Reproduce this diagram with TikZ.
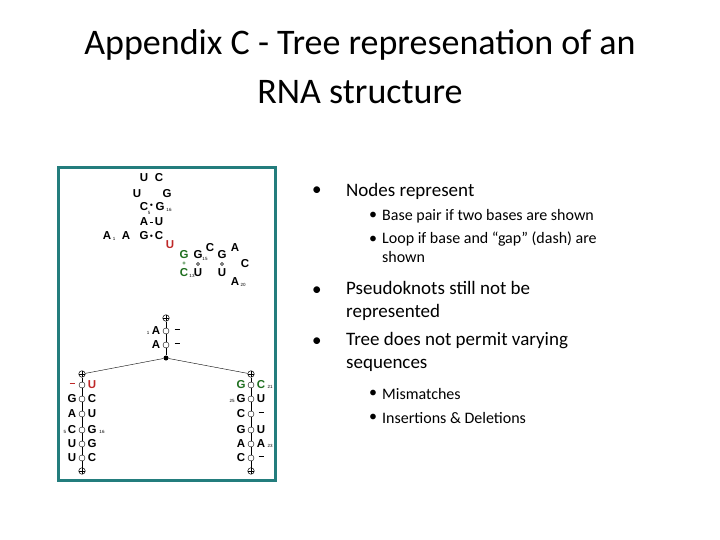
\documentclass[tikz,border=0pt]{standalone}
\usepackage{fontspec}
\setmainfont{Carlito}
\newfontfamily\arialf{Liberation Sans}
\newcommand{\dsh}{\rule[3.5pt]{5pt}{1pt}}
\begin{document}
\begin{tikzpicture}[x=1pt,y=-1pt,
 b/.style={font=\arialf\bfseries\fontsize{11.5}{11.5}\selectfont,inner sep=0pt},
 sub/.style={font=\arialf\fontsize{4.5}{4.5}\selectfont,inner sep=0pt},
 oc/.style={circle,draw,fill=white,inner sep=0pt,minimum size=6pt,line width=0.4pt},
 pc/.style={circle,draw,fill=white,inner sep=0pt,minimum size=6.5pt,line width=0.5pt,path picture={\draw (path picture bounding box.north)--(path picture bounding box.south) (path picture bounding box.west)--(path picture bounding box.east);}},
 l1/.style={font=\fontsize{19}{23}\selectfont,anchor=west,inner sep=0pt,align=left},
 l2/.style={font=\fontsize{16}{19}\selectfont,anchor=west,inner sep=0pt,align=left},
 ttl/.style={font=\fontsize{36}{40}\selectfont,inner sep=0pt}]
\useasboundingbox (0,0) rectangle (720,540);
\definecolor{teal1}{RGB}{35,125,125}
\definecolor{grn}{RGB}{30,110,30}
\definecolor{rd}{RGB}{190,40,40}
\node[ttl] (t1) at (360,45) {Appendix C - Tree represenation of an};
\node[ttl] (t2) at (360,92) {RNA structure};
\draw[teal1,line width=3pt] (58,168) rectangle (275,480);
% top structure
\node[b] (u1) at (144,178) {U}; \node[b] (c1) at (159,178) {C};
\node[b] (u2) at (137,194) {U}; \node[b] (g1) at (167,194) {G};
\node[b] (c5) at (144,207) {C}; \node[sub] at (149,213) {5};\node[b] at (151.5,205){\tiny$\bullet$}; \node[b] (g16) at (160,207) {G}; \node[sub] at (169,210) {16};
\node[b] (a3) at (144,222) {A}; \node[b] at (151.5,222) {\rule{3pt}{1pt}}; \node[b] (u3) at (159,222) {U};
\node[b] (a1) at (107,236) {A}; \node[sub] at (114,239) {1};
\node[b] (a2) at (126,236) {A}; \node[b] (g2) at (144,236) {G}; \node[b] at (151.5,236) {\tiny$\bullet$}; \node[b] (c2) at (159,236) {C};
\node[b,rd] (u4) at (170,245) {U};
\node[b,grn] (g3) at (184,255) {G}; \node[grn,font=\arialf\bfseries\fontsize{6}{6}\selectfont,inner sep=0pt] at (184,264) {+}; \node[b,grn] (c13) at (184,273) {C}; \node[sub] at (192,276) {13};
\node[b] (g15) at (198,255) {G}; \node[oc,minimum size=3pt] at (198,264) {}; \node[sub] at (205,259) {15}; \node[b] (u5) at (198,273) {U};
\node[b] (c3) at (210,248) {C};
\node[b] (g4) at (222,255) {G}; \node[oc,minimum size=3pt] at (222,264) {}; \node[b] (u6) at (222,273) {U};
\node[b] (a4) at (235,248) {A}; \node[b] (c4) at (245,264) {C};
\node[b] (a20) at (235,282) {A}; \node[sub] at (243,285) {20};
% tree
\node[pc] (p0) at (166,318) {};
\node[oc] (o1) at (166,331) {}; \node[b] at (156,331) {A}; \node[sub] at (148,333) {1}; \node[b] at (177,331) {\dsh};
\node[oc] (o2) at (166,345) {}; \node[b] at (156,345) {A}; \node[b] at (177,345) {\dsh};
\node[circle,fill,inner sep=0pt,minimum size=5pt] (r) at (166,358) {};
\node[pc] (pl) at (82,374) {}; \node[pc] (pr) at (251,374) {};
\node[pc] (pl2) at (82,471) {}; \node[pc] (pr2) at (251,471) {};
\draw (p0)--(o1)--(o2)--(r);
\draw (r)--(pl); \draw (r)--(pr);
\foreach \y/\L/\R/\i in {385/{\textcolor{rd}{\dsh}}/{\textcolor{rd}{U}}/1,399/G/C/2,414/A/U/3,430/C/G/4,444/U/G/5,458/U/C/6}{
 \node[oc] (ol\i) at (82,\y) {}; \node[b] at (72,\y) {\L}; \node[b] at (92,\y) {\R};}
\foreach \y/\L/\R/\i in {385/{\textcolor{grn}{G}}/{\textcolor{grn}{C}}/1,399/G/U/2,414/C/\dsh/3,430/G/U/4,444/A/A/5,458/C/\dsh/6}{
 \node[oc] (or\i) at (251,\y) {}; \node[b] at (241,\y) {\L}; \node[b] at (261,\y) {\R};}
\node[sub] at (65,432) {5}; \node[sub] at (102,432) {16};
\node[sub] at (270,387) {21}; \node[sub] at (232,401) {25}; \node[sub] at (270,446) {23};
\draw[line width=0.3pt] (pl)--(ol1)--(ol2)--(ol3)--(ol4)--(ol5)--(ol6)--(pl2);
\draw[line width=0.3pt] (pr)--(or1)--(or2)--(or3)--(or4)--(or5)--(or6)--(pr2);
% bullets
\node[l1] (n1) at (312,191) {•}; \node[l1] at (346,191) {Nodes represent};
\node[l2] at (369,216) {•}; \node[l2] at (382,216) {Base pair if two bases are shown};
\node[l2] at (369,240) {•}; \node[l2,anchor=north west] at (382,232) {Loop if base and “gap” (dash) are\\shown};
\node[l1] at (312,291) {•}; \node[l1,anchor=north west] at (346,281) {Pseudoknots still not be\\represented};
\node[l1] at (312,342) {•}; \node[l1,anchor=north west] at (346,332) {Tree does not permit varying\\sequences};
\node[l2] at (369,394) {•}; \node[l2] at (382,394) {Mismatches};
\node[l2] at (369,418) {•}; \node[l2] at (382,418) {Insertions \& Deletions};
\end{tikzpicture}
\end{document}
